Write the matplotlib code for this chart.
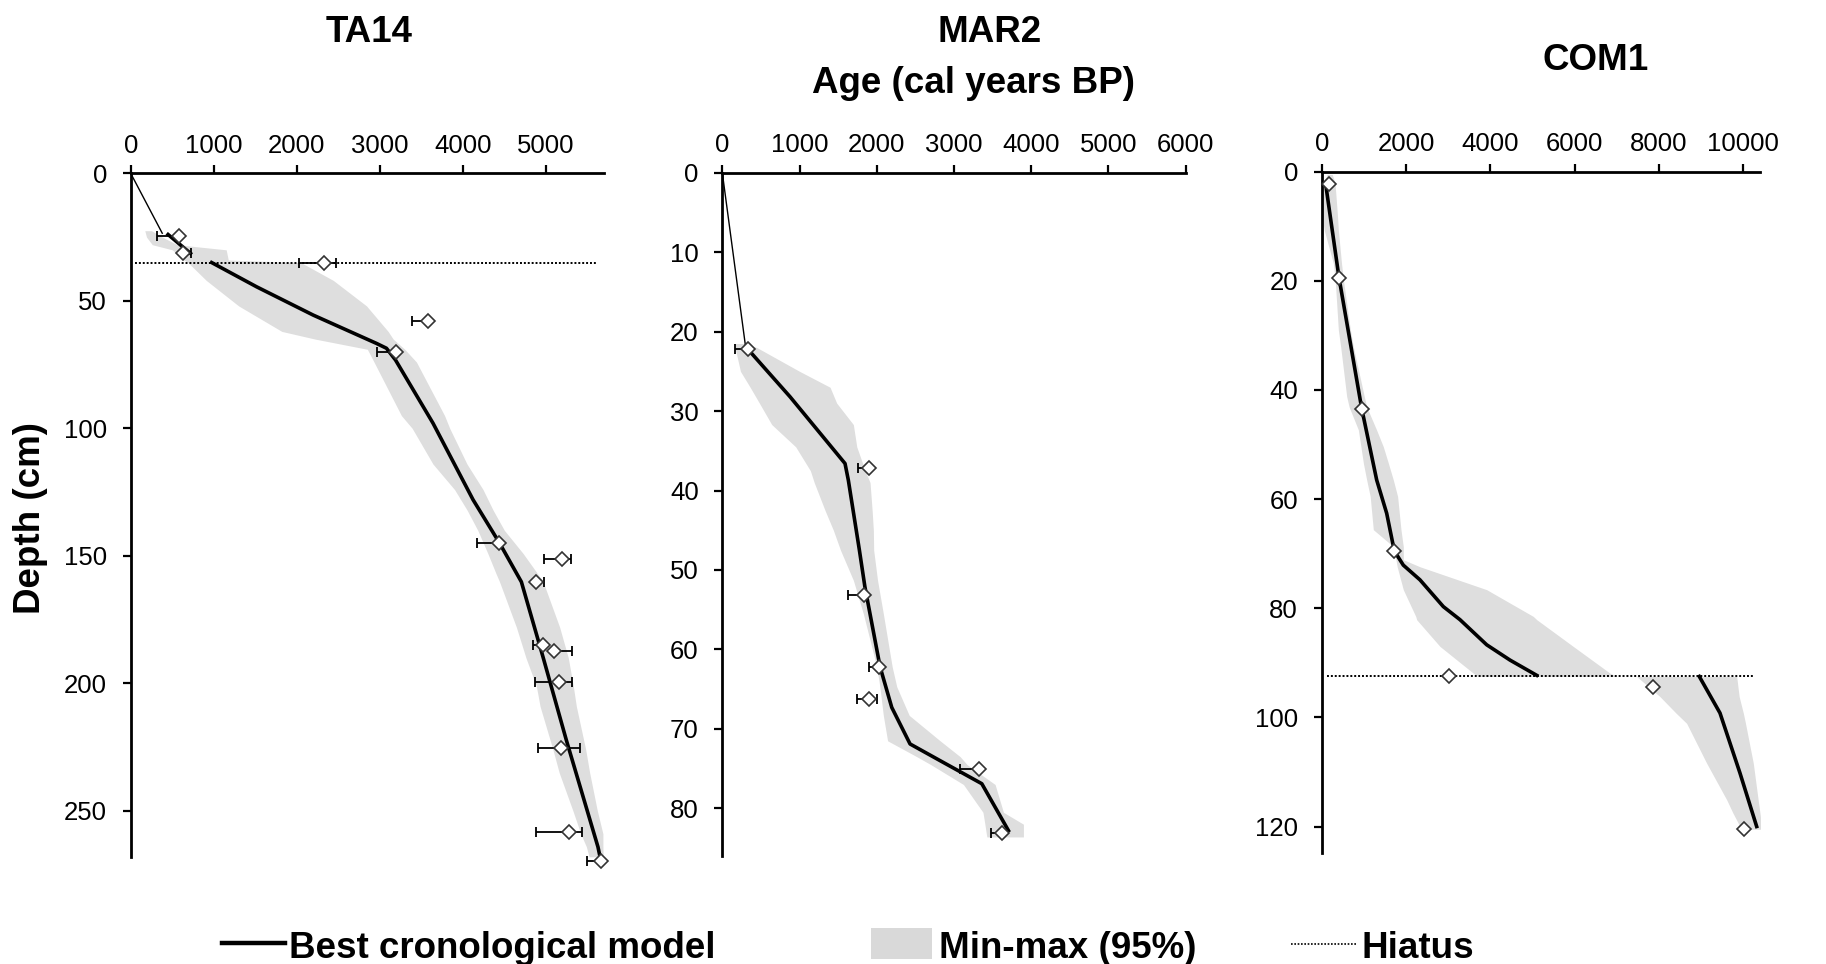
import matplotlib
matplotlib.use("Agg")
import matplotlib.pyplot as plt
from matplotlib.lines import Line2D
from matplotlib.patches import Rectangle

plt.rcParams['font.family'] = ['Liberation Sans', 'DejaVu Sans']

W, H = 1826, 964

# ---------------- TA14 ----------------
ta_dates_depth = [24.5, 31.4, 35.0, 57.8, 70.0, 145.0, 151.3, 160.3, 185.0, 187.2, 199.4, 225.3, 258.4, 269.6]
ta_dates_age = [580, 625, 2330, 3580, 3190, 4440, 5190, 4880, 4960, 5100, 5160, 5180, 5280, 5660]
ta_err_lo = [260, 0, 300, 190, 220, 270, 210, 0, 110, 0, 290, 280, 400, 170]
ta_err_hi = [0, 100, 140, 0, 0, 0, 110, 100, 0, 220, 160, 230, 150, 0]
ta_thin_age = [0, 380]
ta_thin_depth = [0, 23.5]
ta_model_top_depth = [24.0, 31.4]
ta_model_top_age = [450, 720]
ta_model_depth = [35, 44.5, 55.6, 66.7, 68.6, 73.2, 98, 128, 145.1, 160.2, 189.6, 222.2, 264.1, 268.6]
ta_model_age = [975, 1516, 2198, 2960, 3080, 3189, 3641, 4123, 4444, 4705, 4965, 5246, 5627, 5656]
ta_band_depth = [22.5, 25, 28, 30, 34, 35, 42, 52, 62, 65, 69, 74, 95, 100, 114, 124, 132, 140, 149,
                 157, 160, 178, 190, 201, 209, 226, 235, 250, 259, 264, 268]
ta_band_min = [170, 190, 260, 500, 640, 690, 910, 1300, 1820, 2220, 2850, 2930, 3260, 3390, 3640, 3900,
               4050, 4180, 4300, 4400, 4440, 4645, 4760, 4885, 4930, 5085, 5160, 5326, 5420, 5487, 5520]
ta_band_max = [250, 380, 560, 1150, 1175, 2050, 2440, 2840, 3100, 3161, 3300, 3441, 3780, 3842, 4050,
               4243, 4363, 4500, 4724, 4900, 4965, 5166, 5270, 5330, 5367, 5480, 5527, 5620, 5687, 5687, 5690]
ta_hiatus_depth = 35.0
ta_hiatus_range = [50, 5620]

# ---------------- MAR2 ----------------
mar_dates_depth = [22.2, 37.2, 53.1, 62.2, 66.2, 75.1, 83.1]
mar_dates_age = [330, 1900, 1840, 2030, 1900, 3330, 3620]
mar_err_lo = [165, 140, 210, 130, 150, 250, 140]
mar_err_hi = [0, 0, 0, 0, 100, 0, 0]
mar_thin_age = [0, 300]
mar_thin_depth = [0, 21.8]
mar_model_depth = [22.2, 28.2, 36.6, 38.7, 47.5, 52.1, 62.2, 67.3, 71.9, 74.0, 76.9, 82.8]
mar_model_age = [330, 877, 1589, 1632, 1775, 1846, 2043, 2194, 2431, 2820, 3360, 3705]
mar_band_depth = [21.5, 22, 25, 27, 29, 31.7, 34.5, 37.5, 39, 42.5, 45, 47.5, 51.3, 55.5, 62.2, 64.7,
                  68.3, 71.5, 73.5, 74.5, 77, 80.5, 82, 83.6]
mar_band_min = [150, 165, 235, 360, 480, 640, 950, 1140, 1190, 1330, 1438, 1530, 1697, 1826, 2000, 2040,
                2085, 2140, 2518, 2700, 3122, 3375, 3400, 3425]
mar_band_max = [300, 446, 1000, 1395, 1481, 1697, 1741, 1850, 1913, 1940, 1956, 1960, 2010, 2085, 2200,
                2259, 2420, 2820, 3080, 3170, 3532, 3640, 3899, 3899]

# ---------------- COM1 ----------------
com_dates_depth = [2.3, 19.4, 43.4, 69.5, 92.5, 94.5, 120.5]
com_dates_age = [173, 410, 949, 1722, 3026, 7864, 10014]
com_model_top_depth = [2.6, 19.4, 43.4, 56.5, 62.6, 69.5, 72.1, 74.8, 79.7, 82.1, 86.7, 89.5, 92.3]
com_model_top_age = [100, 410, 949, 1304, 1541, 1722, 1935, 2331, 2884, 3280, 3913, 4465, 5100]
com_model_bot_depth = [92.5, 99.2, 110.2, 120.0]
com_model_bot_age = [8954, 9445, 9919, 10315]
com_band_top_depth = [0.5, 2.1, 7.6, 10.7, 16.8, 19.8, 29.0, 32.1, 41.2, 43.1, 47.3, 50.4, 53.4, 56.5,
                      59.5, 65.6, 68.7, 71.1, 72.4, 76.6, 81.5, 82.1, 87.0, 91.9, 92.5]
com_band_top_min = [130, 40, 0, 60, 276, 320, 395, 450, 593, 650, 869, 930, 988, 1067, 1150, 1224, 1699,
                    1760, 1790, 1935, 2230, 2252, 2805, 3595, 3700]
com_band_top_max = [250, 316, 370, 395, 470, 514, 680, 751, 1010, 1067, 1300, 1461, 1580, 1699, 1800,
                    1880, 1935, 1935, 2331, 3913, 5018, 5100, 5966, 6837, 7000]
com_band_bot_depth = [92.5, 96.2, 99.2, 101.1, 108.4, 115.1, 117.5, 120.0, 120.5]
com_band_bot_min = [7470, 8022, 8400, 8655, 9129, 9604, 9750, 9919, 10000]
com_band_bot_max = [9841, 9900, 9998, 10050, 10235, 10350, 10393, 10434, 10434]
com_hiatus_depth = 92.5
com_hiatus_range = [118, 10220]

ta_xticks = [0, 1000, 2000, 3000, 4000, 5000]
ta_yticks = [0, 50, 100, 150, 200, 250]
mar_xticks = [0, 1000, 2000, 3000, 4000, 5000, 6000]
mar_yticks = [0, 10, 20, 30, 40, 50, 60, 70, 80]
com_xticks = [0, 2000, 4000, 6000, 8000, 10000]
com_yticks = [0, 20, 40, 60, 80, 100, 120]

BAND = '#dedede'
TICKFS = 18.5
BOLDFS = 26.5

fig = plt.figure(figsize=(W / 100, H / 100), dpi=100)


def make_ax(px_left, px_right, px_top, px_bottom):
    return fig.add_axes([px_left / W, 1 - px_bottom / H, (px_right - px_left) / W, (px_bottom - px_top) / H])


def setup(ax, xmax, ymax, xticks, yticks):
    ax.set_xlim(0, xmax)
    ax.set_ylim(ymax, 0)
    ax.xaxis.tick_top()
    for s in ['bottom', 'right']:
        ax.spines[s].set_visible(False)
    for s in ['top', 'left']:
        ax.spines[s].set_linewidth(2.0)
    ax.tick_params(axis='x', direction='out', length=6, width=1.6, labelsize=TICKFS, pad=5,
                   top=True, bottom=False, labeltop=True, labelbottom=False)
    ax.tick_params(axis='y', direction='out', length=6, width=1.6, labelsize=TICKFS, pad=11)
    ax.set_xticks(xticks)
    ax.set_yticks(yticks)
    ax.set_xticklabels([str(t) for t in xticks])
    ax.set_yticklabels([str(t) for t in yticks])


def draw_dates(ax, age, depth, lo=None, hi=None):
    if lo is not None:
        ax.errorbar(age, depth, xerr=[lo, hi], fmt='none', ecolor='black', elinewidth=1.3,
                    capsize=3.5, capthick=1.3, zorder=4, clip_on=False)
    ax.plot(age, depth, linestyle='none', marker='D', ms=7.5, mfc='white', mec='#333333',
            mew=1.2, zorder=5, clip_on=False)


# TA14
ax1 = make_ax(130.7, 604, 173.3, 857.3)
setup(ax1, 5700, 268.2, ta_xticks, ta_yticks)
ax1.fill_betweenx(ta_band_depth, ta_band_min, ta_band_max, color=BAND, lw=0, zorder=1)
ax1.hlines(ta_hiatus_depth, ta_hiatus_range[0], ta_hiatus_range[1], colors='black',
           linestyles=(0, (1, 1)), lw=1.4, zorder=2)
ax1.plot(ta_thin_age, ta_thin_depth, color='black', lw=1.0, zorder=3)
ax1.plot(ta_model_top_age, ta_model_top_depth, color='black', lw=2.6, zorder=3)
ax1.plot(ta_model_age, ta_model_depth, color='black', lw=2.6, zorder=3, clip_on=False)
draw_dates(ax1, ta_dates_age, ta_dates_depth, ta_err_lo, ta_err_hi)

# MAR2
ax2 = make_ax(722.3, 1185.7, 172.7, 856)
setup(ax2, 6000, 86, mar_xticks, mar_yticks)
ax2.fill_betweenx(mar_band_depth, mar_band_min, mar_band_max, color=BAND, lw=0, zorder=1)
ax2.plot(mar_thin_age, mar_thin_depth, color='black', lw=1.0, zorder=3)
ax2.plot(mar_model_age, mar_model_depth, color='black', lw=2.6, zorder=3)
draw_dates(ax2, mar_dates_age, mar_dates_depth, mar_err_lo, mar_err_hi)

# COM1
ax3 = make_ax(1321.7, 1760, 171.7, 852.7)
setup(ax3, 10394, 124.8, com_xticks, com_yticks)
ax3.fill_betweenx(com_band_top_depth, com_band_top_min, com_band_top_max, color=BAND, lw=0, zorder=1)
ax3.fill_betweenx(com_band_bot_depth, com_band_bot_min, com_band_bot_max, color=BAND, lw=0, zorder=1)
ax3.hlines(com_hiatus_depth, com_hiatus_range[0], com_hiatus_range[1], colors='black',
           linestyles=(0, (1, 1)), lw=1.4, zorder=2)
ax3.plot(com_model_top_age, com_model_top_depth, color='black', lw=2.6, zorder=3)
ax3.plot(com_model_bot_age, com_model_bot_depth, color='black', lw=2.6, zorder=3)
draw_dates(ax3, com_dates_age, com_dates_depth)

# Titles and labels
fig.text(369 / W, 1 - 42 / H, 'TA14', ha='center', va='baseline', fontsize=BOLDFS, fontweight='bold')
fig.text(990 / W, 1 - 42 / H, 'MAR2', ha='center', va='baseline', fontsize=BOLDFS, fontweight='bold')
fig.text(973 / W, 1 - 93 / H, 'Age (cal years BP)', ha='center', va='baseline', fontsize=BOLDFS,
         fontweight='bold')
fig.text(1596 / W, 1 - 70 / H, 'COM1', ha='center', va='baseline', fontsize=BOLDFS, fontweight='bold')
fig.text(30 / W, 1 - 518 / H, 'Depth (cm)', ha='center', va='center', rotation=90, fontsize=BOLDFS,
         fontweight='bold')

# Legend (manual, figure coordinates)
fig.add_artist(Line2D([222 / W, 285 / W], [1 - 943 / H, 1 - 943 / H], color='black', lw=3.2,
                      transform=fig.transFigure))
fig.text(289 / W, 1 - 958 / H, 'Best cronological model', ha='left', va='baseline', fontsize=BOLDFS,
         fontweight='bold')
fig.add_artist(Rectangle((871 / W, 1 - 959 / H), (932 - 871) / W, (959 - 928) / H, color='#d9d9d9',
                         lw=0, transform=fig.transFigure))
fig.text(939 / W, 1 - 958 / H, 'Min-max (95%)', ha='left', va='baseline', fontsize=BOLDFS,
         fontweight='bold')
fig.add_artist(Line2D([1291 / W, 1356 / W], [1 - 944 / H, 1 - 944 / H], color='black', lw=1.2,
                      linestyle=(0, (1, 1)), transform=fig.transFigure))
fig.text(1361 / W, 1 - 958 / H, 'Hiatus', ha='left', va='baseline', fontsize=BOLDFS, fontweight='bold')

fig.savefig('out.png', dpi=100)
